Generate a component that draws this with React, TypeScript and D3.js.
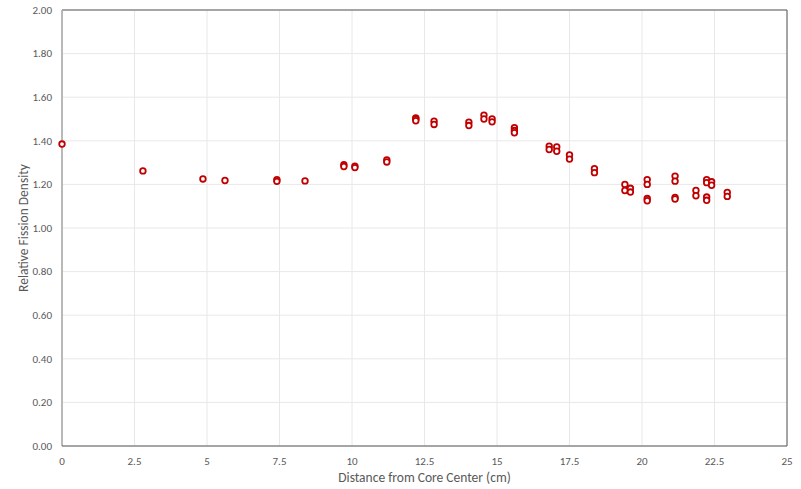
import React from "react";
import * as d3 from "d3";

const xValues = [
  0,
  2.79,
  4.86,
  5.62,
  7.41, 7.41,
  8.38,
  9.72, 9.72,
  10.1, 10.1,
  11.2, 11.2,
  12.2, 12.2, 12.2,
  12.83, 12.83,
  14.03, 14.03,
  14.55, 14.55,
  14.83, 14.83,
  15.6, 15.6, 15.6,
  16.8, 16.8,
  17.06, 17.06,
  17.5, 17.5,
  18.36, 18.36,
  19.41, 19.41,
  19.6, 19.6,
  20.18, 20.18, 20.18, 20.18,
  21.14, 21.14, 21.14, 21.14,
  21.86, 21.86,
  22.23, 22.23, 22.23, 22.23,
  22.4, 22.4,
  22.94, 22.94,
];

const yValues = [
  1.385,
  1.262,
  1.225,
  1.218,
  1.222, 1.214,
  1.216,
  1.29, 1.282,
  1.284, 1.277,
  1.312, 1.303,
  1.505, 1.5, 1.492,
  1.49, 1.475,
  1.485, 1.47,
  1.518, 1.5,
  1.5, 1.487,
  1.46, 1.447, 1.437,
  1.375, 1.36,
  1.372, 1.352,
  1.335, 1.316,
  1.272, 1.254,
  1.2, 1.172,
  1.182, 1.165,
  1.222, 1.2, 1.135, 1.125,
  1.238, 1.215, 1.14, 1.133,
  1.172, 1.148,
  1.222, 1.208, 1.142, 1.127,
  1.212, 1.196,
  1.163, 1.145,
];

const xTicks = [0, 2.5, 5, 7.5, 10, 12.5, 15, 17.5, 20, 22.5, 25];
const xTickLabels = ["0", "2.5", "5", "7.5", "10", "12.5", "15", "17.5", "20", "22.5", "25"];
const yTicks = [0, 0.2, 0.4, 0.6, 0.8, 1.0, 1.2, 1.4, 1.6, 1.8, 2.0];

const xTitle = "Distance from Core Center (cm)";
const yTitle = "Relative Fission Density";

const W = 801;
const H = 489;
const margin = { left: 62, right: 14, top: 10, bottom: 43 };

export default function App() {
  const x = d3.scaleLinear().domain([0, 25]).range([margin.left, W - margin.right]);
  const y = d3.scaleLinear().domain([0, 2]).range([H - margin.bottom, margin.top]);
  const font = "Calibri, Carlito, 'Open Sans', 'Liberation Sans', 'DejaVu Sans', sans-serif";
  const x0 = x(0), x1 = x(25), y0 = y(0), y1 = y(2);
  return (
    <svg
      width={W}
      height={H}
      style={{ position: "absolute", left: 0, top: 0, display: "block", background: "#fff" }}
      fontFamily={font}
    >
      <rect x={0} y={0} width={W} height={H} fill="#fff" />
      {yTicks.map((t) => (
        <line key={"gy" + t} x1={x0} x2={x1} y1={y(t)} y2={y(t)} stroke="#e8e8e8" strokeWidth={1} />
      ))}
      {xTicks.map((t) => (
        <line key={"gx" + t} x1={x(t)} x2={x(t)} y1={y1} y2={y0} stroke="#e8e8e8" strokeWidth={1} />
      ))}
      <line x1={x0} x2={x1} y1={y1} y2={y1} stroke="#595959" strokeWidth={1} />
      <line x1={x1} x2={x1} y1={y1} y2={y0} stroke="#595959" strokeWidth={1} />
      <line x1={x0} x2={x0} y1={y1} y2={y0} stroke="#a6a6a6" strokeWidth={1.5} />
      <line x1={x0} x2={x1} y1={y0} y2={y0} stroke="#595959" strokeWidth={1} />
      {yTicks.map((t) => (
        <text key={"ty" + t} x={x0 - 10} y={y(t)} dy="0.35em" textAnchor="end" fontSize={11} fill="#595959">
          {d3.format(".2f")(t)}
        </text>
      ))}
      {xTicks.map((t, i) => (
        <text key={"tx" + t} x={x(t)} y={y0 + 15} dy="0.35em" textAnchor="middle" fontSize={11} fill="#595959">
          {xTickLabels[i]}
        </text>
      ))}
      <text x={(x0 + x1) / 2} y={y0 + 31} dy="0.35em" textAnchor="middle" fontSize={13.5} fill="#595959">
        {xTitle}
      </text>
      <text
        transform={`translate(23,${(y0 + y1) / 2}) rotate(-90)`}
        dy="0.35em"
        textAnchor="middle"
        fontSize={13.5}
        fill="#595959"
      >
        {yTitle}
      </text>
      {xValues.map((xv, i) => (
        <circle
          key={"p" + i}
          cx={x(xv)}
          cy={y(yValues[i])}
          r={2.8}
          fill="#fff"
          stroke="#c00000"
          strokeWidth={1.8}
        />
      ))}
    </svg>
  );
}
